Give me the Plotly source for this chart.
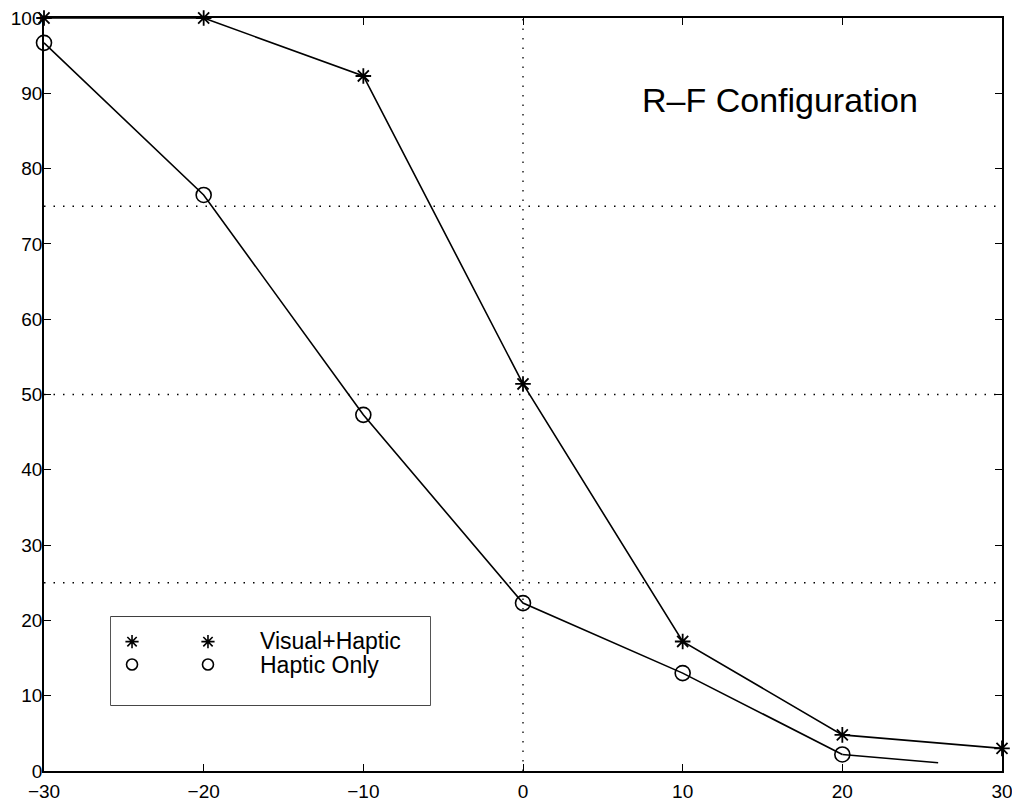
import plotly.graph_objects as go

# ---- data ----
x_levels = [-30, -20, -10, 0, 10, 20, 30]
visual_haptic = [100, 100, 92.3, 51.4, 17.2, 4.8, 3.0]
haptic_x = [-30, -20, -10, 0, 10, 20]
haptic_only = [96.7, 76.5, 47.3, 22.3, 13.0, 2.2]
haptic_tail_x = [20, 26]
haptic_tail_y = [2.2, 1.1]
grid_y = [25, 50, 75]
grid_x = [0]
x_ticks = [-30, -20, -10, 0, 10, 20, 30]
y_ticks = [0, 10, 20, 30, 40, 50, 60, 70, 80, 90, 100]
legend_names = ["Visual+Haptic", "Haptic Only"]
title_text = "R\u2013F Configuration"

FONT = "Liberation Sans, Arial, Helvetica, sans-serif"

fig = go.Figure()

# Visual + Haptic
fig.add_trace(go.Scatter(
    x=x_levels, y=visual_haptic, mode="lines+markers",
    line=dict(color="black", width=1.6),
    marker=dict(symbol="asterisk-open", size=13, color="black",
                line=dict(color="black", width=1.8)),
    cliponaxis=False, showlegend=False))

# Haptic only line (with tail)
fig.add_trace(go.Scatter(
    x=haptic_tail_x, y=haptic_tail_y, mode="lines",
    line=dict(color="black", width=1.6), showlegend=False))
fig.add_trace(go.Scatter(
    x=haptic_x, y=haptic_only, mode="lines+markers",
    line=dict(color="black", width=1.6),
    marker=dict(symbol="circle-open", size=15, color="black",
                line=dict(color="black", width=1.6)),
    cliponaxis=False, showlegend=False))

# Legend sample markers on a hidden axis over the legend box
leg_x0, leg_x1 = 0.0699, 0.403
leg_y0, leg_y1 = 0.0876, 0.2045
leg_rows = [0.72, 0.46]
leg_cols = [0.066, 0.304]
symbols = ["asterisk-open", "circle-open"]
sizes = [11, 11]
for r, sym, sz in zip(leg_rows, symbols, sizes):
    fig.add_trace(go.Scatter(
        x=leg_cols, y=[r, r], mode="markers", xaxis="x3", yaxis="y3",
        marker=dict(symbol=sym, size=sz, color="black",
                    line=dict(color="black", width=1.6)),
        showlegend=False, hoverinfo="skip"))

shapes = []
for gy in grid_y:
    shapes.append(dict(type="line", xref="paper", x0=0, x1=1, yref="y", y0=gy, y1=gy,
                       line=dict(color="black", width=1.3, dash="1.5px,8px"), layer="below"))
for gx in grid_x:
    shapes.append(dict(type="line", yref="paper", y0=0, y1=1, xref="x", x0=gx, x1=gx,
                       line=dict(color="black", width=1.3, dash="1.5px,8px"), layer="below"))
shapes.append(dict(type="rect", xref="paper", yref="paper",
                   x0=leg_x0, x1=leg_x1, y0=leg_y0, y1=leg_y1,
                   line=dict(color="black", width=1.3), fillcolor="white", layer="below"))

annotations = [
    dict(text=title_text, xref="paper", yref="paper", x=0.768, y=0.891,
         showarrow=False, font=dict(family=FONT, size=34, color="black"),
         xanchor="center", yanchor="middle"),
]
text_rows_paper = [0.172, 0.141]
for name, yy in zip(legend_names, text_rows_paper):
    annotations.append(dict(text=name, xref="paper", yref="paper", x=0.2234, y=yy,
                            showarrow=False, font=dict(family=FONT, size=23, color="black"),
                            xanchor="left", yanchor="middle"))

axis_common = dict(showline=True, linecolor="black", linewidth=1.5, mirror="ticks",
                   ticks="inside", ticklen=7, tickwidth=1.3, tickcolor="black",
                   showgrid=False, zeroline=False, automargin=False,
                   ticklabeloverflow="allow",
                   tickfont=dict(family=FONT, size=19, color="black"))

# page body has an ~8px default margin; the figure is sized to compensate
fig.update_layout(
    width=1012, height=799,
    margin=dict(l=36, r=18, t=10, b=36),
    paper_bgcolor="white", plot_bgcolor="white",
    xaxis=dict(range=[-30, 30], tickvals=x_ticks,
               ticktext=[str(v).replace("-", "\u2212") for v in x_ticks],
               ticklabelstandoff=2, **axis_common),
    yaxis=dict(range=[0, 100], tickvals=y_ticks, ticklabelstandoff=-4, **axis_common),
    xaxis3=dict(domain=[leg_x0, leg_x1], range=[0, 1], visible=False, anchor="y3"),
    yaxis3=dict(domain=[leg_y0, leg_y1], range=[0, 1], visible=False, anchor="x3"),
    shapes=shapes, annotations=annotations, showlegend=False,
)

fig.write_html("out.html")
